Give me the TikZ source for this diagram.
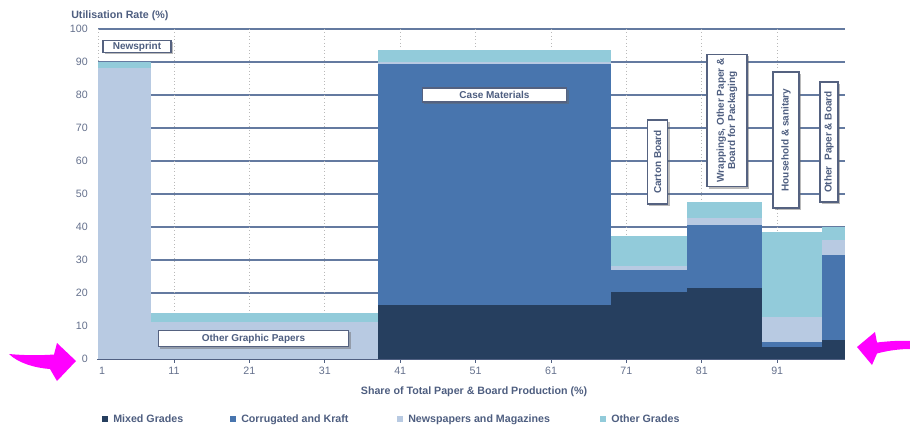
\documentclass[tikz,border=0pt]{standalone}
\usepackage{fontspec}
\setmainfont{Liberation Sans}
\usetikzlibrary{shadows}
\definecolor{cmixed}{RGB}{38,63,95}
\definecolor{ccorr}{RGB}{72,117,174}
\definecolor{cnews}{RGB}{184,202,226}
\definecolor{cother}{RGB}{146,203,218}
\definecolor{txtc}{RGB}{78,94,128}
\definecolor{tickc}{RGB}{100,112,140}
\definecolor{gridc}{RGB}{100,122,160}
\definecolor{boxc}{RGB}{85,98,128}
\definecolor{axisc}{RGB}{80,96,130}
\definecolor{arrowc}{RGB}{255,0,255}
\begin{document}
\begin{tikzpicture}[x=0.75pt,y=-0.75pt,
  gridh/.style={draw=gridc, line width=1.1pt},
  gridv/.style={draw=gray!55, dotted, line width=0.6pt},
  ticklbl/.style={font=\fontsize{8}{9.5}\selectfont, text=tickc, inner sep=0pt},
  axtitle/.style={font=\bfseries\fontsize{8}{9.5}\selectfont, text=txtc, inner sep=0pt},
  legtext/.style={font=\bfseries\fontsize{8}{9.5}\selectfont, text=txtc, inner sep=0pt, anchor=base west},
  lbl/.style={draw=boxc, line width=0.8pt, fill=white, inner sep=0pt, align=center,
    font=\bfseries\fontsize{7.5}{8.5}\selectfont, text=txtc,
    drop shadow={shadow xshift=1.3pt, shadow yshift=-1.3pt, fill=black!60, opacity=0.45}},
  bigarrow/.style={fill=arrowc, draw=none}
]
\useasboundingbox (0,0) rectangle (910,428);

% grid
\foreach \v in {10,20,...,100}
  \draw[gridh] (98,{359-3.3*\v}) -- (845,{359-3.3*\v});
\foreach \v in {1,11,21,...,91}
  \draw[gridv] ({98.6+7.54*(\v-1)},29) -- ({98.6+7.54*(\v-1)},359);

% bars: Newsprint
\fill[cnews] (98,68) rectangle (151,359);
\fill[cother] (98,62) rectangle (151,68);
% Other graphic papers
\fill[cnews] (151,322) rectangle (378,359);
\fill[cother] (151,313) rectangle (378,322);
% Case materials
\fill[cmixed] (378,305) rectangle (611,359);
\fill[ccorr] (378,64) rectangle (611,305);
\fill[cnews] (378,62) rectangle (611,64);
\fill[cother] (378,50) rectangle (611,62);
% Carton board
\fill[cmixed] (611,292) rectangle (687,359);
\fill[ccorr] (611,270) rectangle (687,292);
\fill[cnews] (611,266) rectangle (687,270);
\fill[cother] (611,236) rectangle (687,266);
% Wrappings
\fill[cmixed] (687,288) rectangle (762,359);
\fill[ccorr] (687,225) rectangle (762,288);
\fill[cnews] (687,218) rectangle (762,225);
\fill[cother] (687,202) rectangle (762,218);
% Household
\fill[cmixed] (762,347) rectangle (822,359);
\fill[ccorr] (762,342) rectangle (822,347);
\fill[cnews] (762,317) rectangle (822,342);
\fill[cother] (762,232) rectangle (822,317);
% Other paper & board
\fill[cmixed] (822,340) rectangle (845,359);
\fill[ccorr] (822,255) rectangle (845,340);
\fill[cnews] (822,240) rectangle (845,255);
\fill[cother] (822,227) rectangle (845,240);

% x axis
\draw[draw=axisc, line width=1.2pt] (97,359.5) -- (845,359.5);
\foreach \v in {11,21,...,91}
  \draw[draw=axisc, line width=0.7pt] ({98.6+7.54*(\v-1)},359.5) -- ({98.6+7.54*(\v-1)},363);

% tick labels
\foreach \v in {0,10,...,100}
  \node[ticklbl, anchor=east] (y\v) at (88,{359-3.3*\v}) {\v};
\node[ticklbl, anchor=north] (x1) at (102,367) {1};
\foreach \v in {11,21,...,91}
  \node[ticklbl, anchor=north] (x\v) at ({98.6+7.54*(\v-1)},367) {\v};

% titles
\node[axtitle, anchor=west] (ytitle) at (71,16) {Utilisation Rate (\%)};
\node[axtitle] (xtitle) at (474,392) {Share of Total Paper \& Board Production (\%)};

% labels
\node[lbl, minimum width=51pt, minimum height=9pt] (newsprint) at (137,46.5) {Newsprint};
\node[lbl, minimum width=143pt, minimum height=12.5pt] (ogp) at (253.5,338.5) {Other Graphic Papers};
\node[lbl, minimum width=108.5pt, minimum height=10.5pt] (case) at (494.5,95) {Case Materials};
\node[lbl, rotate=90, minimum width=63pt, minimum height=15.5pt] (carton) at (657.5,162) {Carton Board};
\node[lbl, rotate=90, minimum width=99.5pt, minimum height=30pt] (wrap) at (727,120.5) {Wrappings, Other Paper \&\\Board for Packaging};
\node[lbl, rotate=90, minimum width=102pt, minimum height=19.5pt] (house) at (786,140) {Household \& sanitary};
\node[lbl, rotate=90, minimum width=90pt, minimum height=13.5pt] (opb) at (829,142) {Other\ \ Paper \& Board};

% legend
\fill[cmixed] (102,416) rectangle (107.5,421.5);
\node[legtext] (lmixed) at (113,422.5) {Mixed Grades};
\fill[ccorr] (230,416) rectangle (235.5,421.5);
\node[legtext] (lcorr) at (241,422.5) {Corrugated and Kraft};
\fill[cnews] (397,416) rectangle (402.5,421.5);
\node[legtext] (lnews) at (408,422.5) {Newspapers and Magazines};
\fill[cother] (600,416) rectangle (605.5,421.5);
\node[legtext] (lother) at (611,422.5) {Other Grades};

% magenta arrows
\fill[bigarrow] (9,354) .. controls (25,355.5) and (40,355.5) .. (54,354.5)
  -- (57,343) -- (76,361) -- (57,381) -- (50,369)
  .. controls (35,368) and (18,363) .. (9,354) -- cycle;
\fill[bigarrow] (857,347) -- (875,332) -- (877,342.5)
  .. controls (890,341) and (900,340.5) .. (910,341) -- (910,349)
  .. controls (898,349) and (886,351) .. (877,353.5)
  -- (872,365) -- cycle;
\end{tikzpicture}
\end{document}
